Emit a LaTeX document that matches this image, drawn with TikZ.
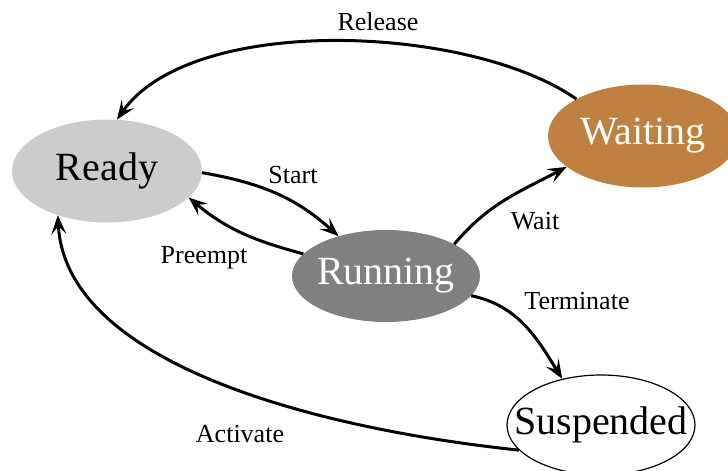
\documentclass[tikz,border=0pt]{standalone}
\usepackage{fontspec}
\setmainfont{Liberation Serif}
\usetikzlibrary{arrows.meta,shapes.geometric}
\definecolor{readygray}{RGB}{204,204,204}
\definecolor{rungray}{RGB}{128,128,128}
\definecolor{waitbrown}{RGB}{192,128,64}
\newcommand{\sttext}[1]{\makebox[0pt]{#1}}

\begin{document}
\begin{tikzpicture}[x=1pt, y=1pt,
  proc/.style={ellipse, inner sep=0pt, font=\fontsize{40}{48}\selectfont},
  lbl/.style={font=\fontsize{26}{31}\selectfont},
  arr/.style={-{Stealth[length=19pt,width=15pt,inset=8pt]}, line width=3pt},
]
\useasboundingbox (0,0) rectangle (728,-471);

% process states
\node[proc, fill=readygray, minimum width=190pt, minimum height=103pt]
  (ready) at (107,-171) {\sttext{Ready}};
\node[proc, fill=rungray, text=white, minimum width=188pt, minimum height=92pt]
  (running) at (386,-276) {\sttext{Running}};
\node[proc, fill=waitbrown, text=white, minimum width=190pt, minimum height=103pt]
  (waiting) at (643,-136) {\sttext{Waiting}};
\node[proc, draw, line width=1.2pt, fill=white, minimum width=188pt, minimum height=100pt]
  (suspended) at (601,-425) {\sttext{Suspended}};

% transitions
\draw[arr] (ready.-1) to[out=-10,in=138] (running.140);
\draw[arr] (running.165) to[out=165,in=-40] (ready.-18);
\draw[arr] (running.25) to[out=50,in=-152] (waiting.-158);
\draw[arr] (running.-13) to[out=-12,in=122] (suspended.130);
\draw[arr] (waiting.151) .. controls +(145:130) and +(55:130) .. (ready.79);
\draw[arr] (suspended.197) .. controls +(174:200) and +(-87:150) .. (ready.-138);

% transition labels
\node[lbl] (lrelease) at (378,-22) {Release};
\node[lbl] (lstart) at (293,-175) {Start};
\node[lbl] (lpreempt) at (204,-258) {Preempt};
\node[lbl] (lwait) at (535,-221) {Wait};
\node[lbl] (lterm) at (577,-301) {Terminate};
\node[lbl] (lactivate) at (240,-434) {Activate};
\end{tikzpicture}
\end{document}
